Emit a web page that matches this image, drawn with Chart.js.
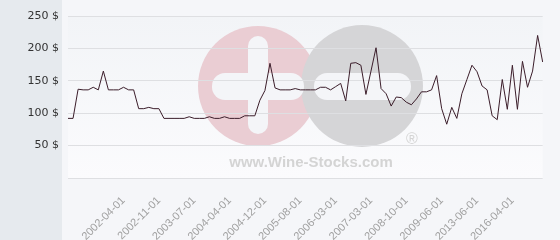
<!DOCTYPE html>
<html>
<head>
<meta charset="utf-8">
<script src="https://cdn.jsdelivr.net/npm/chart.js@4/dist/chart.umd.min.js"></script>
<style>
  html, body { margin: 0; padding: 0; background: #f5f6f9; }
  #wrap { width: 560px; height: 240px; }
</style>
</head>
<body>
<div id="wrap"><canvas id="myChart" width="560" height="240"></canvas></div>
<script>
// dates of each quotation
const dates = [
  '2001-05-01','2001-06-01','2001-07-01','2001-08-01','2001-09-01','2001-10-01','2001-11-01','2001-12-01',
  '2002-01-01','2002-02-01','2002-03-01','2002-04-01','2002-05-01','2002-06-01','2002-07-01','2002-08-01',
  '2002-09-01','2002-10-01','2002-11-01','2002-12-01','2003-01-01','2003-02-01','2003-03-01','2003-04-01',
  '2003-05-01','2003-07-01','2003-08-01','2003-09-01','2003-10-01','2003-11-01','2004-01-01','2004-02-01',
  '2004-04-01','2004-05-01','2004-06-01','2004-07-01','2004-08-01','2004-09-01','2004-10-01','2004-12-01',
  '2005-01-01','2005-02-01','2005-03-01','2005-04-01','2005-05-01','2005-06-01','2005-08-01','2005-09-01',
  '2005-10-01','2005-11-01','2005-12-01','2006-01-01','2006-02-01','2006-03-01','2006-04-01','2006-06-01',
  '2006-08-01','2006-09-01','2006-11-01','2007-01-01','2007-03-01','2007-06-01','2007-09-01','2007-12-01',
  '2008-02-01','2008-05-01','2008-07-01','2008-10-01','2008-11-01','2008-12-01','2009-01-01','2009-02-01',
  '2009-03-01','2009-05-01','2009-06-01','2010-01-01','2010-09-01','2011-04-01','2011-11-01','2012-06-01',
  '2012-12-01','2013-06-01','2013-11-01','2014-04-01','2014-09-01','2015-01-01','2015-06-01','2015-11-01',
  '2016-04-01','2016-09-01','2017-02-01','2017-07-01','2017-12-01','2018-05-01','2018-10-01'
];
// price in $
const prices = [
  92, 92, 137, 136, 136, 140, 136, 165, 136, 136, 136, 140, 136, 136, 107, 107,
  109, 107, 107, 92, 92, 92, 92, 92, 94.5, 92, 92, 92, 94.5, 92, 92, 94.5,
  92, 92, 92, 96, 96, 96, 120, 135, 177, 139, 136, 136, 136, 138, 136, 136,
  136, 136, 140, 140, 136, 141, 146, 119, 177, 178, 174, 129, 165, 201, 138, 130,
  111, 125, 124, 117, 113, 122, 133, 133, 136, 158, 107, 83, 109, 92, 130, 152,
  174, 164, 142, 136, 96, 90, 152, 106, 174, 106, 180, 140, 165, 220, 179
];
// labels shown on the x axis
const tickLabels = [
  '2002-04-01','2002-11-01','2003-07-01','2004-04-01','2004-12-01','2005-08-01',
  '2006-03-01','2007-03-01','2008-10-01','2009-06-01','2013-06-01','2016-04-01'
];
const yTicks = [0, 50, 100, 150, 200, 250];

// background panels + watermark
const backdrop = {
  id: 'backdrop',
  beforeDraw(chart) {
    const ctx = chart.ctx;
    const a = chart.chartArea;
    ctx.save();
    ctx.fillStyle = '#f5f6f9';
    ctx.fillRect(0, 0, chart.width, chart.height);
    ctx.fillStyle = '#e6eaee';
    ctx.fillRect(0, 0, 62, chart.height);
    let g = ctx.createLinearGradient(0, a.top, 0, a.bottom);
    g.addColorStop(0, '#f2f4f7');
    g.addColorStop(1, '#fbfbfd');
    ctx.fillStyle = g;
    ctx.fillRect(a.left, a.top, a.right - a.left, a.bottom - a.top);

    // logo
    ctx.fillStyle = '#eacdd3';
    ctx.beginPath(); ctx.arc(258, 86, 60, 0, Math.PI * 2); ctx.fill();
    ctx.fillStyle = '#d5d5d7';
    ctx.beginPath(); ctx.arc(362, 86, 61, 0, Math.PI * 2); ctx.fill();
    ctx.fillStyle = '#f4f5f8';
    ctx.beginPath(); ctx.roundRect(248, 36, 20, 98, 10); ctx.fill();
    ctx.beginPath(); ctx.roundRect(212, 73, 92, 27, 13); ctx.fill();
    ctx.beginPath(); ctx.roundRect(314, 73, 97, 27, 13); ctx.fill();

    ctx.fillStyle = '#d4d4d4';
    ctx.font = 'bold 15px "Liberation Sans", Arial, sans-serif';
    ctx.textAlign = 'center';
    ctx.textBaseline = 'alphabetic';
    ctx.fillText('www.Wine-Stocks.com', 311, 167);
    ctx.font = '16px "Liberation Sans", Arial, sans-serif';
    ctx.fillText('®', 412, 144);
    ctx.restore();
  }
};

const ctx = document.getElementById('myChart').getContext('2d');
const myChart = new Chart(ctx, {
  type: 'line',
  data: {
    labels: dates,
    datasets: [{
      data: prices,
      borderColor: '#3b1d2a',
      borderWidth: 1,
      pointRadius: 0,
      tension: 0,
      fill: false
    }]
  },
  options: {
    responsive: false,
    animation: false,
    layout: { padding: { top: 16, right: 5, left: 0, bottom: 0 } },
    plugins: {
      legend: { display: false },
      tooltip: { enabled: false }
    },
    scales: {
      x: {
        offset: false,
        grid: { display: false },
        border: { display: false },
        afterFit: function (scale) { scale.height = 62; },
        ticks: {
          autoSkip: false,
          minRotation: 45,
          maxRotation: 45,
          padding: 8,
          color: '#a0a0a0',
          font: { family: '"Liberation Sans", Arial, sans-serif', size: 11 },
          callback: function (value, index) {
            return tickLabels.includes(dates[index]) ? dates[index] : '';
          }
        }
      },
      y: {
        min: 0,
        max: 250,
        afterFit: function (scale) { scale.width = 68; },
        afterBuildTicks: function (scale) { scale.ticks = yTicks.map(v => ({ value: v })); },
        grid: { color: '#dedfe2', lineWidth: 1, drawTicks: false },
        border: { display: false },
        ticks: {
          padding: 9,
          color: '#333333',
          font: { family: '"DejaVu Sans", sans-serif', size: 11 },
          callback: function (value) { return value === 0 ? '' : value + ' $'; }
        }
      }
    }
  },
  plugins: [backdrop]
});
</script>
</body>
</html>
